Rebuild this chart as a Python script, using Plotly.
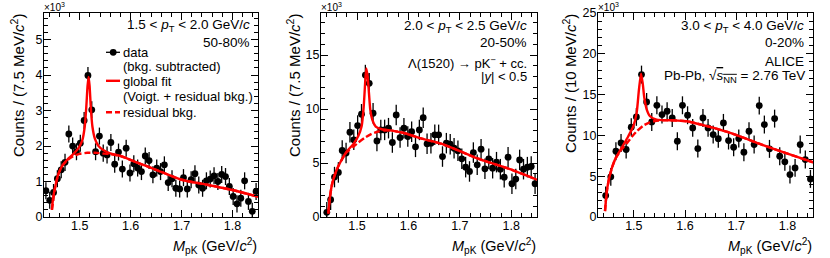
import plotly.graph_objects as go

W, H = 830, 258
X_MIN, X_MAX = 1.43, 1.85
FONT = "Liberation Sans, Arial, Helvetica, sans-serif"
RED = "#ff0000"

# ---------------- panel 1 : 1.5 < pT < 2.0 GeV/c, 50-80% ----------------
bin_width_p1 = 0.0075
counts_p1 = [0.74, 0.47, 0.69, 1.08, 1.33, 1.54, 2.34, 2.00, 1.84, 2.08,
             2.72, 3.99, 3.02, 1.84, 2.28, 1.80, 1.75, 2.10, 1.49, 1.83,
             1.35, 1.94, 1.24, 1.50, 1.38, 1.28, 1.72, 1.59, 1.19, 1.38,
             1.28, 1.47, 0.97, 1.08, 0.81, 0.79, 1.11, 0.79, 1.05, 1.22,
             0.90, 0.81, 1.02, 1.07, 1.16, 1.00, 1.20, 1.14, 0.86, 0.58,
             0.37, 0.53, 1.02, 0.44, 0.16, 0.72]
err_p1 = 0.24
fit_x_p1 = [1.4455, 1.448, 1.452, 1.458, 1.466, 1.476, 1.488, 1.498, 1.505, 1.510,
            1.513, 1.5155, 1.5175, 1.5195, 1.522, 1.525, 1.530, 1.537, 1.547, 1.560,
            1.580, 1.610, 1.650, 1.700, 1.750, 1.800, 1.850]
fit_y_p1 = [0.20, 0.55, 0.85, 1.20, 1.45, 1.62, 1.78, 1.95, 2.15, 2.55,
            3.10, 3.70, 3.95, 3.70, 3.05, 2.55, 2.20, 2.00, 1.88, 1.79,
            1.72, 1.55, 1.33, 1.05, 0.91, 0.76, 0.57]
bkg_x_p1 = [1.4455, 1.452, 1.458, 1.466, 1.476, 1.488, 1.500, 1.515, 1.530, 1.545,
            1.560, 1.580, 1.610, 1.650, 1.700, 1.750, 1.800, 1.850]
bkg_y_p1 = [0.20, 0.85, 1.20, 1.45, 1.60, 1.72, 1.78, 1.81, 1.81, 1.79,
            1.77, 1.72, 1.55, 1.33, 1.05, 0.91, 0.76, 0.57]
yrange_p1 = [0, 5.75]
ydtick_p1, yminor_p1 = 1, 0.2

# ---------------- panel 2 : 2.0 < pT < 2.5 GeV/c, 20-50% ----------------
bin_width_p2 = 0.0075
counts_p2 = [None, 0.43, 1.60, 3.70, 4.13, 6.16, 5.92, 7.86, 7.15, 8.47,
             9.52, 13.15, 12.38, 9.61, 7.05, 8.07, 8.07, 8.23, 6.90, 9.46,
             7.36, 8.23, 7.46, 7.90, 6.50, 8.07, 9.20, 6.78, 6.84, 7.61,
             7.61, 5.60, 6.84, 6.74, 6.37, 6.13, 5.39, 4.62, 4.22, 5.97,
             4.83, 6.28, 4.46, 5.39, 4.52, 5.08, 4.43, 3.69, 5.54, 3.08,
             3.51, 5.29, 4.43, 4.62, 4.68, 3.08]
err_p2 = 0.95
fit_x_p2 = [1.4442, 1.4475, 1.452, 1.4605, 1.4702, 1.480, 1.4928, 1.5025, 1.509, 1.513,
            1.5162, 1.518, 1.5207, 1.5233, 1.5259, 1.5298, 1.5364, 1.548, 1.5675, 1.5933,
            1.6225, 1.6678, 1.7327, 1.7975, 1.85]
fit_y_p2 = [0.31, 1.90, 3.14, 4.37, 5.30, 6.07, 6.75, 7.50, 8.40, 10.2,
            12.7, 13.77, 13.0, 11.46, 9.92, 9.00, 8.38, 8.13, 8.00, 7.76,
            7.30, 6.73, 5.45, 4.43, 3.45]
bkg_x_p2 = [1.4442, 1.4475, 1.452, 1.4605, 1.4702, 1.480, 1.4928, 1.5025, 1.5155, 1.5285,
            1.5415, 1.554, 1.5675, 1.5933, 1.6225, 1.6678, 1.7327, 1.7975, 1.85]
bkg_y_p2 = [0.31, 1.90, 3.14, 4.37, 5.30, 6.00, 6.50, 6.90, 7.35, 7.70,
            7.92, 8.02, 8.00, 7.76, 7.30, 6.73, 5.45, 4.43, 3.45]
yrange_p2 = [0, 18.9]
ydtick_p2, yminor_p2 = 5, 1

# ---------------- panel 3 : 3.0 < pT < 4.0 GeV/c, 0-20% ----------------
bin_width_p3 = 0.010
counts_p3 = [None, 2.63, 4.92, 8.06, 9.08, 8.27, 11.0, 12.27, 17.45, 14.10,
             11.65, 13.69, 12.55, 12.96, 12.14, 9.29, 13.69, 12.47, 10.92, 8.39,
             12.14, 10.92, 10.10, 9.60, 11.53, 9.37, 8.55, 9.61, 7.94, 10.51,
             8.88, 13.65, 11.33, 8.35, 12.06, 7.45, 6.76, 5.20, 6.02, 8.88,
             7.04, 4.67]
err_p3 = 1.1
fit_x_p3 = [1.4437, 1.4456, 1.4482, 1.4534, 1.4632, 1.4762, 1.4892, 1.499, 1.5055, 1.510,
            1.514, 1.5173, 1.5205, 1.5251, 1.5316, 1.5446, 1.5706, 1.6032, 1.639, 1.6845,
            1.7497, 1.8148, 1.85]
fit_y_p3 = [0.71, 2.14, 3.57, 5.20, 7.04, 8.47, 9.90, 11.12, 12.76, 15.6,
            17.57, 16.4, 14.6, 13.2, 12.35, 11.94, 11.86, 11.73, 11.2, 10.39,
            8.88, 7.45, 6.71]
bkg_x_p3 = [1.4437, 1.4456, 1.4482, 1.4534, 1.4632, 1.4762, 1.486, 1.4957, 1.5055, 1.5185,
            1.5316, 1.5446, 1.5706, 1.6032, 1.639, 1.6845, 1.7497, 1.8148, 1.85]
bkg_y_p3 = [0.71, 2.14, 3.57, 5.20, 7.04, 8.30, 9.00, 9.80, 10.5, 11.2,
            11.6, 11.8, 11.86, 11.73, 11.2, 10.39, 8.88, 7.45, 6.71]
yrange_p3 = [0, 25]
ydtick_p3, yminor_p3 = 5, 1

x_tick_vals = [1.5, 1.6, 1.7, 1.8]
x_tick_text = ["1.5", "1.6", "1.7", "1.8"]

y_titles = ["Counts / (7.5 MeV/<i>c</i><sup>2</sup>)",
            "Counts / (7.5 MeV/<i>c</i><sup>2</sup>)",
            "Counts / (10 MeV/<i>c</i><sup>2</sup>)"]

# ---------------- layout geometry (pixels) ----------------
frames_px = [(44, 258), (321, 537), (598, 813)]
FRAME_TOP, FRAME_BOT = 13, 217


def xp(px):
    return px / W


def yp(py):
    return 1 - py / H


panels = [
    (bin_width_p1, counts_p1, err_p1, fit_x_p1, fit_y_p1, bkg_x_p1, bkg_y_p1, yrange_p1, ydtick_p1, yminor_p1),
    (bin_width_p2, counts_p2, err_p2, fit_x_p2, fit_y_p2, bkg_x_p2, bkg_y_p2, yrange_p2, ydtick_p2, yminor_p2),
    (bin_width_p3, counts_p3, err_p3, fit_x_p3, fit_y_p3, bkg_x_p3, bkg_y_p3, yrange_p3, ydtick_p3, yminor_p3),
]

fig = go.Figure()
layout_axes = {}

for i, (bw, counts, err, fx, fy, bx, by, yr, ydt, ymn) in enumerate(panels):
    n = i + 1
    xa = "x" if n == 1 else f"x{n}"
    ya = "y" if n == 1 else f"y{n}"
    centres = [X_MIN + (k + 0.5) * bw for k in range(len(counts))]
    errs = [err if c is not None else None for c in counts]
    fig.add_trace(go.Scatter(
        x=centres, y=counts, mode="markers", xaxis=xa, yaxis=ya,
        marker=dict(symbol="circle", size=6.8, color="black"),
        error_y=dict(type="data", array=errs, visible=True, color="black",
                     thickness=1.3, width=0),
        showlegend=False, cliponaxis=True))
    fig.add_trace(go.Scatter(
        x=bx, y=by, mode="lines", xaxis=xa, yaxis=ya,
        line=dict(color=RED, width=2.4, dash="6px,3px", shape="spline", smoothing=0.6),
        showlegend=False))
    fig.add_trace(go.Scatter(
        x=fx, y=fy, mode="lines", xaxis=xa, yaxis=ya,
        line=dict(color=RED, width=2.4, shape="spline", smoothing=0.6),
        showlegend=False))

    l, r = frames_px[i]
    axis_common = dict(showline=True, linecolor="black", linewidth=1, mirror="ticks",
                       ticks="inside", tickcolor="black", tickwidth=1,
                       showgrid=False, zeroline=False,
                       tickfont=dict(family=FONT, size=12.5, color="black"))
    layout_axes["xaxis" if n == 1 else f"xaxis{n}"] = dict(
        axis_common, domain=[xp(l), xp(r)], range=[X_MIN, X_MAX],
        anchor=ya, tickvals=x_tick_vals, ticktext=x_tick_text, ticklen=7,
        minor=dict(ticks="inside", dtick=0.02, tick0=1.5, ticklen=4, tickcolor="black"),
        ticklabelstandoff=-3)
    layout_axes["yaxis" if n == 1 else f"yaxis{n}"] = dict(
        axis_common, domain=[yp(FRAME_BOT), yp(FRAME_TOP)], range=yr,
        anchor=xa, dtick=ydt, tick0=0, ticklen=7,
        minor=dict(ticks="inside", dtick=ymn, tick0=0, ticklen=4, tickcolor="black"),
        ticklabelstandoff=-2)

annotations = []
shapes = []


def txt(text, x, y, xanchor="right", size=13.5, yanchor="middle", angle=0):
    annotations.append(dict(text=text, x=xp(x), y=yp(y), xref="paper", yref="paper",
                            xanchor=xanchor, yanchor=yanchor, showarrow=False,
                            textangle=angle, borderpad=0,
                            font=dict(family=FONT, size=size, color="black")))


# axis titles and x10^3 multipliers
ytitle_cx = [17.5, 293.5, 569.5]
for i, (l, r) in enumerate(frames_px):
    txt(y_titles[i], ytitle_cx[i], FRAME_TOP, xanchor="center", yanchor="top", size=15, angle=-90)
    txt("<i>M</i><sub>pK</sub> (GeV/<i>c</i><sup>2</sup>)", r, 246, size=14.5)
    txt("×10<sup>3</sup>", l - 1, 7, xanchor="left", size=10)

# panel 1 texts and legend
txt("1.5 &lt; <i>p</i><sub>T</sub> &lt; 2.0 GeV/<i>c</i>", 251, 26)
txt("50-80%", 251, 42.3)
leg_x = 121.5
txt("data", leg_x, 52.3, xanchor="left", size=13)
txt("(bkg. subtracted)", leg_x, 66.5, xanchor="left", size=13)
txt("global fit", leg_x, 81, xanchor="left", size=13)
txt("(Voigt. + residual bkg.)", leg_x, 96.8, xanchor="left", size=13)
txt("residual bkg.", leg_x, 112.3, xanchor="left", size=13)
shapes.append(dict(type="line", xref="paper", yref="paper", x0=xp(106), x1=xp(120),
                   y0=yp(52.3), y1=yp(52.3), line=dict(color="black", width=1.3)))
shapes.append(dict(type="circle", xref="paper", yref="paper", xsizemode="pixel", ysizemode="pixel",
                   xanchor=xp(113.2), yanchor=yp(52.3), x0=-3.4, x1=3.4, y0=-3.4, y1=3.4,
                   fillcolor="black", line=dict(color="black", width=0)))
shapes.append(dict(type="line", xref="paper", yref="paper", x0=xp(106), x1=xp(120),
                   y0=yp(80.8), y1=yp(80.8), line=dict(color=RED, width=2.4)))
shapes.append(dict(type="line", xref="paper", yref="paper", x0=xp(106), x1=xp(120),
                   y0=yp(112.3), y1=yp(112.3), line=dict(color=RED, width=2.4, dash="6px,3px")))

# panel 2 texts
txt("2.0 &lt; <i>p</i><sub>T</sub> &lt; 2.5 GeV/<i>c</i>", 528, 27)
txt("20-50%", 528, 42.5)
txt("Λ(1520) → pK<sup>−</sup> + cc.", 528, 62.5, size=13)
txt("|<i>y</i>| &lt; 0.5", 528, 76.5, size=13)

# panel 3 texts
txt("3.0 &lt; <i>p</i><sub>T</sub> &lt; 4.0 GeV/<i>c</i>", 805, 27)
txt("0-20%", 805, 42.5)
txt("ALICE", 805, 62)
txt("Pb-Pb, √<span style='text-decoration:overline'><i>s</i><sub>NN</sub></span> = 2.76 TeV", 806, 76)

fig.update_layout(
    width=W, height=H,
    margin=dict(l=0, r=0, t=0, b=0, autoexpand=False),
    paper_bgcolor="white", plot_bgcolor="white",
    annotations=annotations, shapes=shapes,
    showlegend=False,
    **layout_axes)

# remove the default 8px page margin so the 830x258 figure fills the window exactly
fig.write_html("out.html", config={"displayModeBar": False, "staticPlot": True},
               post_script="document.body.style.margin='0';")
